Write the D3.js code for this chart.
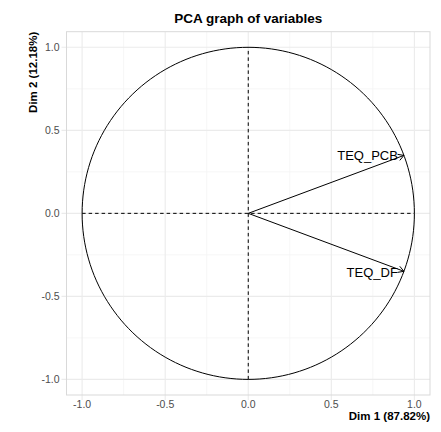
<!DOCTYPE html>
<html><head><meta charset="utf-8">
<script src="https://cdn.jsdelivr.net/npm/d3@7"></script>
<style>body{margin:0;background:#fff;} svg{display:block;font-family:"Liberation Sans",Arial,sans-serif;}</style>
</head><body><svg id="c" width="441" height="432"></svg>
<script>
const variables = ["TEQ_PCB", "TEQ_DF"];
const dim1 = [0.937, 0.937];
const dim2 = [0.349, -0.349];
const majorTicks = [-1.0, -0.5, 0.0, 0.5, 1.0];
const minorTicks = [-0.75, -0.25, 0.25, 0.75];
const tickLabels = ["-1.0", "-0.5", "0.0", "0.5", "1.0"];
const title = "PCA graph of variables";
const xTitle = "Dim 1 (87.82%)";
const yTitle = "Dim 2 (12.18%)";

const svg = d3.select("#c");
const L = 66.5, R = 430, T = 31.7, B = 395;
const lim = 1.094;
const x = d3.scaleLinear().domain([-lim, lim]).range([L, R]);
const y = d3.scaleLinear().domain([-lim, lim]).range([B, T]);

// grid
const g = svg.append("g");
minorTicks.forEach(t => {
  g.append("line").attr("x1", x(t)).attr("x2", x(t)).attr("y1", T).attr("y2", B).attr("stroke", "#f4f4f4").attr("stroke-width", 0.8);
  g.append("line").attr("y1", y(t)).attr("y2", y(t)).attr("x1", L).attr("x2", R).attr("stroke", "#f4f4f4").attr("stroke-width", 0.8);
});
majorTicks.forEach(t => {
  g.append("line").attr("x1", x(t)).attr("x2", x(t)).attr("y1", T).attr("y2", B + 5).attr("stroke", "#ebebeb").attr("stroke-width", 1.1);
  g.append("line").attr("y1", y(t)).attr("y2", y(t)).attr("x1", L - 5).attr("x2", R).attr("stroke", "#ebebeb").attr("stroke-width", 1.1);
});
g.append("rect").attr("x", L).attr("y", T).attr("width", R - L).attr("height", B - T).attr("fill", "none").attr("stroke", "#d9d9d9").attr("stroke-width", 1);

// axis tick labels
majorTicks.forEach((t, i) => {
  svg.append("text").attr("x", x(t)).attr("y", B + 12.5).attr("text-anchor", "middle").attr("font-size", 10.5).attr("fill", "#4d4d4d").text(tickLabels[i]);
  svg.append("text").attr("x", L - 7).attr("y", y(t)).attr("dy", "0.35em").attr("text-anchor", "end").attr("font-size", 10.5).attr("fill", "#4d4d4d").text(tickLabels[i]);
});

// circle
const circ = d3.range(0, 361, 2).map(a => [Math.cos(a * Math.PI / 180), Math.sin(a * Math.PI / 180)]);
svg.append("path").attr("d", d3.line().x(d => x(d[0])).y(d => y(d[1]))(circ)).attr("fill", "none").attr("stroke", "#000").attr("stroke-width", 1);

// dashed axes
svg.append("line").attr("x1", x(-1)).attr("x2", x(1)).attr("y1", y(0)).attr("y2", y(0)).attr("stroke", "#000").attr("stroke-width", 1).attr("stroke-dasharray", "3.5,3");
svg.append("line").attr("x1", x(0)).attr("x2", x(0)).attr("y1", y(-1)).attr("y2", y(1)).attr("stroke", "#000").attr("stroke-width", 1).attr("stroke-dasharray", "3.5,3");

// arrows
variables.forEach((v, i) => {
  const x0 = x(0), y0 = y(0), x1 = x(dim1[i]), y1 = y(dim2[i]);
  svg.append("line").attr("x1", x0).attr("y1", y0).attr("x2", x1).attr("y2", y1).attr("stroke", "#000").attr("stroke-width", 1);
  const ang = Math.atan2(y1 - y0, x1 - x0);
  const len = 6.5, a = Math.PI / 6;
  const p1 = [x1 - len * Math.cos(ang - a), y1 - len * Math.sin(ang - a)];
  const p2 = [x1 - len * Math.cos(ang + a), y1 - len * Math.sin(ang + a)];
  svg.append("path").attr("d", `M${p1[0]},${p1[1]}L${x1},${y1}L${p2[0]},${p2[1]}`).attr("fill", "none").attr("stroke", "#000").attr("stroke-width", 1);
  svg.append("text").attr("x", x1 - 6).attr("y", y1).attr("dy", dim2[i] > 0 ? "0.38em" : "0.44em").attr("text-anchor", "end").attr("font-size", 13).attr("fill", "#000").text(v);
});

// titles
svg.append("text").attr("x", (L + R) / 2).attr("y", 22.5).attr("text-anchor", "middle").attr("font-size", 13.5).attr("font-weight", "bold").text(title);
svg.append("text").attr("x", R).attr("y", 419.5).attr("text-anchor", "end").attr("font-size", 11.5).attr("font-weight", "bold").text(xTitle);
svg.append("text").attr("transform", `translate(37,${T}) rotate(-90)`).attr("text-anchor", "end").attr("font-size", 11.5).attr("font-weight", "bold").text(yTitle);
</script></body></html>
